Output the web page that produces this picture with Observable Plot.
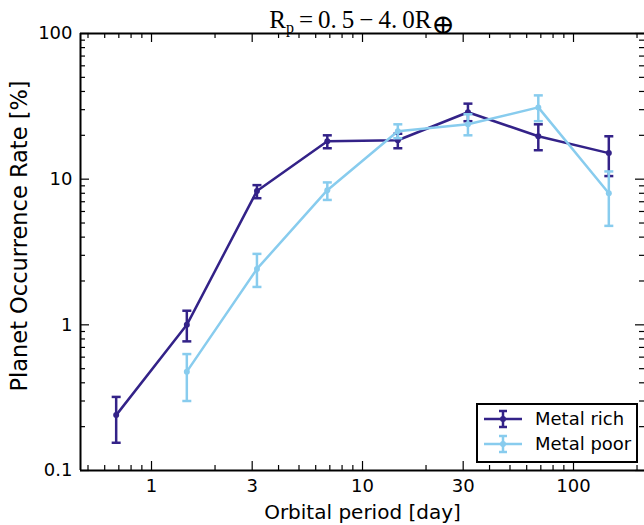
<!DOCTYPE html>
<html>
<head>
<meta charset="utf-8">
<script src="https://cdn.jsdelivr.net/npm/d3@7"></script>
<script src="https://cdn.jsdelivr.net/npm/@observablehq/plot@0.6"></script>
<style>
  html, body { margin: 0; padding: 0; background: white; }
  #chart svg { display: block; }
</style>
</head>
<body>
<div id="chart"></div>
<script>
// ---- data ----
const periods = [0.68, 1.47, 3.16, 6.81, 14.7, 31.6, 68.1, 147];
const richRate = [0.24, 1.0, 8.3, 18.2, 18.5, 28.8, 19.7, 15.1];
const richLo   = [0.155, 0.77, 7.4, 16.3, 16.3, 25.0, 15.8, 10.5];
const richHi   = [0.32, 1.25, 9.1, 20.0, 20.5, 33.0, 23.8, 19.7];

const poorPeriods = [1.47, 3.16, 6.81, 14.7, 31.6, 68.1, 147];
const poorRate = [0.477, 2.42, 8.4, 21.3, 23.8, 31.1, 8.0];
const poorLo   = [0.30, 1.82, 7.2, 19.1, 20.0, 25.0, 4.78];
const poorHi   = [0.63, 3.07, 9.5, 23.8, 27.9, 37.6, 11.3];

const seriesNames = ["Metal rich", "Metal poor"];
const seriesColors = ["#332288", "#88CCEE"];

const xMajorTicks = [1, 3, 10, 30, 100];
const xMinorTicks = [0.5, 0.6, 0.7, 0.8, 0.9, 2, 4, 5, 6, 7, 8, 9, 20, 40, 50, 60, 70, 80, 90, 200];
const yMajorTicks = [0.1, 1, 10, 100];
const yMinorTicks = [0.2, 0.3, 0.4, 0.5, 0.6, 0.7, 0.8, 0.9, 2, 3, 4, 5, 6, 7, 8, 9, 20, 30, 40, 50, 60, 70, 80, 90];
const yTickLabels = ["0.1", "1", "10", "100"];

const xLabel = "Orbital period [day]";
const yLabel = "Planet Occurrence Rate [%]";

// ---- build tables ----
const rich = periods.map((p, i) => ({p, v: richRate[i], lo: richLo[i], hi: richHi[i]}));
const poor = poorPeriods.map((p, i) => ({p, v: poorRate[i], lo: poorLo[i], hi: poorHi[i]}));

const W = 644, H = 525, mL = 80, mR = 0, mT = 33, mB = 55;
const plotW = W - mL - mR, plotH = H - mT - mB;
const majLen = 9, minLen = 5;

const capSymbol = {
  draw(ctx, size) {
    const r = Math.sqrt(size / Math.PI);
    ctx.moveTo(-r, 0);
    ctx.lineTo(r, 0);
  }
};

function seriesMarks(data, color) {
  return [
    Plot.ruleX(data, {x: "p", y1: "lo", y2: "hi", stroke: color, strokeWidth: 2.5}),
    Plot.dot(data, {x: "p", y: "hi", symbol: capSymbol, r: 4.5, fill: "none", stroke: color, strokeWidth: 2.5}),
    Plot.dot(data, {x: "p", y: "lo", symbol: capSymbol, r: 4.5, fill: "none", stroke: color, strokeWidth: 2.5}),
    Plot.line(data, {x: "p", y: "v", stroke: color, strokeWidth: 2.5}),
    Plot.dot(data, {x: "p", y: "v", r: 3, fill: color, stroke: "none"})
  ];
}

const chart = Plot.plot({
  width: W, height: H,
  marginLeft: mL, marginRight: mR, marginTop: mT, marginBottom: mB,
  style: {fontFamily: "DejaVu Sans", background: "white", color: "black", overflow: "visible"},
  x: {type: "log", domain: [0.4607, 217]},
  y: {type: "log", domain: [0.1, 100]},
  marks: [
    ...seriesMarks(rich, seriesColors[0]),
    ...seriesMarks(poor, seriesColors[1]),
    // inward ticks on all sides
    Plot.tickX(xMajorTicks, {x: d => d, insetTop: plotH - majLen, stroke: "black", strokeWidth: 1.2}),
    Plot.tickX(xMajorTicks, {x: d => d, insetBottom: plotH - majLen, stroke: "black", strokeWidth: 1.2}),
    Plot.tickX(xMinorTicks, {x: d => d, insetTop: plotH - minLen, stroke: "black", strokeWidth: 1.2}),
    Plot.tickX(xMinorTicks, {x: d => d, insetBottom: plotH - minLen, stroke: "black", strokeWidth: 1.2}),
    Plot.tickY(yMajorTicks, {y: d => d, insetRight: plotW - majLen, stroke: "black", strokeWidth: 1.2}),
    Plot.tickY(yMajorTicks, {y: d => d, insetLeft: plotW - majLen, stroke: "black", strokeWidth: 1.2}),
    Plot.tickY(yMinorTicks, {y: d => d, insetRight: plotW - minLen, stroke: "black", strokeWidth: 1.2}),
    Plot.tickY(yMinorTicks, {y: d => d, insetLeft: plotW - minLen, stroke: "black", strokeWidth: 1.2}),
    // frame (top, bottom, left)
    Plot.ruleY([0.1, 100], {stroke: "black", strokeWidth: 2}),
    Plot.ruleX([0.4607], {stroke: "black", strokeWidth: 2}),
    // axes labels
    Plot.axisX({anchor: "bottom", ticks: xMajorTicks, tickFormat: d => String(d), tickSize: 0, tickPadding: 9, fontSize: 18, label: null}),
    Plot.axisY({anchor: "left", ticks: yMajorTicks, tickFormat: d => yTickLabels[yMajorTicks.indexOf(d)], tickSize: 0, tickPadding: 8, fontSize: 18, label: null}),
    Plot.text([xLabel], {frameAnchor: "bottom", dy: 42, fontSize: 20, text: d => d, textAnchor: "middle", lineAnchor: "middle"}),
    Plot.text([yLabel], {frameAnchor: "left", dx: -61, dy: -16, rotate: -90, fontSize: 22.5, text: d => d, textAnchor: "middle", lineAnchor: "middle"})
  ]
});

document.getElementById("chart").appendChild(chart);

const svg = d3.select(chart);

// title (math-like)
const t = svg.append("text")
  .attr("x", mL + plotW / 2)
  .attr("y", 28)
  .attr("text-anchor", "middle")
  .style("font-family", "'Liberation Serif', 'DejaVu Serif', serif")
  .style("font-size", "25px")
  .attr("fill", "black");
t.append("tspan").text("R");
t.append("tspan").attr("dy", 5).style("font-size", "16px").text("p");
t.append("tspan").attr("dy", -5).text("\u2009=\u20090.\u20095\u2009\u2212\u20094.\u20090R");
t.append("tspan").attr("dy", 6).style("font-size", "28px").text("\u2295");

// legend
const lg = svg.append("g");
const lx = 477, ly = 404, lw = 160, lh = 58;
lg.append("rect").attr("x", lx).attr("y", ly).attr("width", lw).attr("height", lh)
  .attr("fill", "white").attr("stroke", "black").attr("stroke-width", 2);
seriesNames.forEach((name, i) => {
  const cy = 419 + i * 25;
  const c = seriesColors[i];
  const g = lg.append("g").attr("stroke", c).attr("stroke-width", 2.5);
  g.append("line").attr("x1", 484).attr("x2", 522).attr("y1", cy).attr("y2", cy);
  g.append("line").attr("x1", 503).attr("x2", 503).attr("y1", cy - 8).attr("y2", cy + 8);
  g.append("line").attr("x1", 499).attr("x2", 507).attr("y1", cy - 8).attr("y2", cy - 8);
  g.append("line").attr("x1", 499).attr("x2", 507).attr("y1", cy + 8).attr("y2", cy + 8);
  lg.append("circle").attr("cx", 503).attr("cy", cy).attr("r", 3).attr("fill", c);
  lg.append("text").attr("x", 535).attr("y", cy).attr("dy", "0.35em")
    .attr("text-anchor", "start")
    .style("font-family", "DejaVu Sans").style("font-size", "18px").attr("fill", "black").text(name);
});
</script>
</body>
</html>
